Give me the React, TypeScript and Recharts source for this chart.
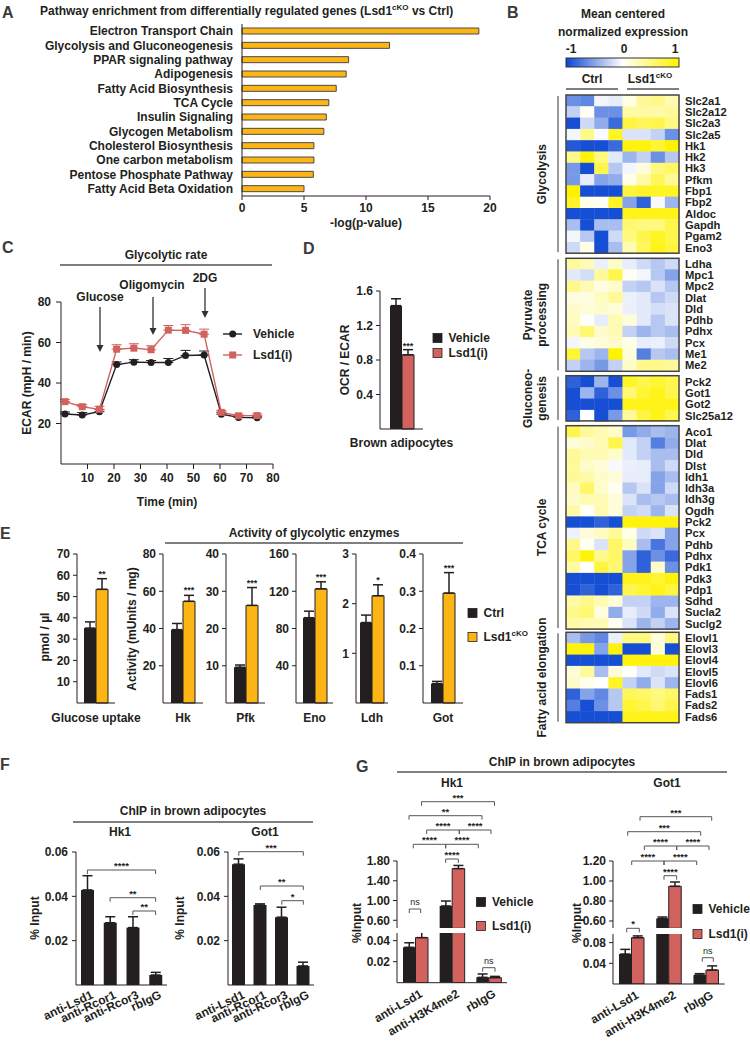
import React from 'react';
import { Bar, BarChart, ErrorBar, LabelList, Line, LineChart, Scatter, ScatterChart, XAxis, YAxis } from 'recharts';

const FONT = '"Liberation Sans", Arial, Helvetica, sans-serif';
const INK = '#231f20';
const RULE = '#555555';
const ORANGE = '#FDB515';
const SALMON = '#D1625E';
const HEAT_BLUE = [10, 70, 210];
const HEAT_YELLOW = [255, 242, 0];

// ---- A: pathway enrichment
const pathways = [
  'Electron Transport Chain', 'Glycolysis and Gluconeogenesis', 'PPAR signaling pathway', 'Adipogenesis',
  'Fatty Acid Biosynthesis', 'TCA Cycle', 'Insulin Signaling', 'Glycogen Metabolism',
  'Cholesterol Biosynthesis', 'One carbon metabolism', 'Pentose Phosphate Pathway', 'Fatty Acid Beta Oxidation',
];
const pathwayLogP = [19.1, 11.9, 8.6, 8.4, 7.6, 7.0, 6.8, 6.6, 5.8, 5.8, 5.75, 5.0];
const pathwayTicks = [0, 5, 10, 15, 20];

// ---- B: heatmap
const heatSamples = ['Ctrl 1', 'Ctrl 2', 'Ctrl 3', 'Ctrl 4', 'cKO 1', 'cKO 2', 'cKO 3', 'cKO 4'];
const glycolysisGenes = ['Slc2a1', 'Slc2a12', 'Slc2a3', 'Slc2a5', 'Hk1', 'Hk2', 'Hk3', 'Pfkm', 'Fbp1', 'Fbp2', 'Aldoc', 'Gapdh', 'Pgam2', 'Eno3'];
const glycolysisZ = [
  [-0.6, -0.65, -0.05, -0.1, 0.1, 0.4, 0.45, 0.3],
  [-0.25, 0.05, -0.6, -0.6, 0.35, 0.35, 0.35, 0.4],
  [-0.95, -0.2, -0.45, -0.8, 0.75, 0.65, 0.7, 0.5],
  [-0.05, 0.45, -0.02, 0.85, -0.15, -0.15, -0.25, -0.6],
  [-0.9, -0.95, -0.95, -0.8, 0.95, 0.95, 0.8, 1],
  [0.45, 0.95, 0.5, -0.12, -0.4, -0.25, -0.6, -0.3],
  [-0.55, -0.95, 0.7, -0.3, -0.05, 0.15, 0.5, 0.6],
  [-0.55, -0.1, -0.5, -0.45, 0.1, 0.35, 0.65, 0.4],
  [1, -0.95, -0.95, -0.95, 0.75, 0.85, 0.85, 0.85],
  [0.85, 0.1, 0.05, 0.85, -0.5, -0.85, -0.03, -0.4],
  [-0.95, -0.95, -0.95, -0.95, 0.9, 0.9, 0.9, 0.9],
  [-0.35, -0.95, -0.35, -0.35, 0.55, 0.5, 0.5, 0.7],
  [-0.05, -0.3, -0.95, -0.2, 0.5, 0.7, 0.85, 0.7],
  [-0.2, 0.1, -0.95, -0.35, 0.3, 0.65, 0.9, 0.75],
];
const pyruvateGenes = ['Ldha', 'Mpc1', 'Mpc2', 'Dlat', 'Dld', 'Pdhb', 'Pdhx', 'Pcx', 'Me1', 'Me2'];
const pyruvateZ = [
  [0.4, 0.3, -0.08, 0.2, -0.1, -0.2, -0.3, -0.2],
  [-0.12, -0.18, 0.4, 0.7, 0.05, -0.05, -0.3, -0.5],
  [0.45, 0.3, 0.12, 0.2, -0.25, -0.3, -0.15, -0.3],
  [0.12, 0.12, 0.25, 0.4, -0.08, -0.12, -0.3, -0.2],
  [0.2, 0.15, 0.2, 0.15, -0.08, -0.12, -0.18, -0.15],
  [0.25, 0.02, -0.1, 0.3, 0.15, -0.12, -0.3, -0.15],
  [0.3, 0.55, 0.2, 0.3, -0.25, -0.4, -0.3, -0.35],
  [-0.05, 0.1, 0.15, 0.2, 0.1, -0.1, -0.08, -0.2],
  [0.8, -0.3, -0.4, 1, 0.15, -0.7, -0.3, -0.35],
  [-0.25, -0.4, -0.55, -0.25, 0.2, 0.45, 0.45, 0.4],
];
const gluconeoGenes = ['Pck2', 'Got1', 'Got2', 'Slc25a12'];
const gluconeoZ = [
  [-0.85, -0.95, -0.4, -0.95, 0.85, 0.7, 0.8, 0.7],
  [-0.95, -0.4, -0.85, -0.6, 0.55, 0.8, 0.9, 0.7],
  [-0.95, -0.95, -0.95, -0.95, 0.9, 0.9, 0.9, 0.9],
  [-0.85, 0, -0.95, -0.55, 0.4, 0.75, 0.9, 0.7],
];
const tcaGenes = ['Aco1', 'Dlat', 'Dld', 'Dlst', 'Idh1', 'Idh3a', 'Idh3g', 'Ogdh', 'Pck2', 'Pcx', 'Pdhb', 'Pdhx', 'Pdk1', 'Pdk3', 'Pdp1', 'Sdhd', 'Sucla2', 'Suclg2'];
const tcaZ = [
  [0.7, 0.4, 0.3, 0.2, -0.55, -0.45, -0.35, -0.4],
  [0.15, 0.2, 0.3, 0.7, -0.12, -0.25, -0.7, -0.45],
  [0.4, 0.3, 0.3, 0.2, -0.12, -0.25, -0.35, -0.35],
  [0.4, 0.2, 0.15, -0.03, -0.08, -0.1, -0.35, -0.2],
  [0.4, 0.35, 0.2, 0.15, -0.1, -0.1, -0.5, -0.35],
  [0.25, 0.6, 0.2, 0.05, -0.3, -0.15, -0.5, -0.2],
  [0.2, 0.3, 0.3, 0.15, -0.15, -0.35, -0.3, -0.35],
  [0.35, 0.02, 0.3, 0.15, -0.25, -0.2, -0.4, -0.15],
  [-0.95, -0.95, -0.85, -0.95, 0.95, 0.95, 0.95, 0.95],
  [-0.07, 0.15, 0.25, 0.4, 0.1, -0.2, -0.15, -0.5],
  [0.45, 0.05, -0.15, 0.6, 0.25, -0.35, -0.75, -0.5],
  [0.6, 0.95, 0.45, 0.6, -0.5, -0.85, -0.6, -0.8],
  [0.35, 0.02, 0.75, 0.55, -0.5, -0.85, 0.2, -0.6],
  [-0.95, -0.95, -0.95, -0.95, 0.9, 0.9, 0.8, 0.95],
  [-0.95, -0.85, -0.95, -0.85, 0.7, 0.8, 0.9, 0.75],
  [0.35, 0.45, 0.3, 0.15, -0.25, -0.25, -0.4, -0.4],
  [0.45, 0.55, 0.12, -0.45, -0.1, -0.2, -0.45, -0.15],
  [0.35, 0.3, 0.3, 0.05, -0.15, -0.4, -0.25, -0.4],
];
const faElongGenes = ['Elovl1', 'Elovl3', 'Elovl4', 'Elovl5', 'Elovl6', 'Fads1', 'Fads2', 'Fads6'];
const faElongZ = [
  [-0.35, -0.55, -0.65, -0.08, 0.5, 0.5, 0.15, 0.5],
  [0.95, 0.95, -0.5, 0.95, -0.95, -0.95, 0.15, -0.95],
  [-0.95, -0.95, -0.95, -0.95, 0.95, 0.95, 0.95, 0.95],
  [0.15, 0.4, -0.35, 0.15, 0.02, -0.12, -0.2, -0.15],
  [0.2, 0.08, 0, 0.85, -0.25, -0.45, -0.15, -0.4],
  [-0.85, -0.5, -0.65, -0.3, 0.65, 0.6, 0.5, 0.6],
  [-0.7, -0.95, -0.6, -0.3, 0.8, 0.7, 0.55, 0.7],
  [-0.95, -0.95, -0.95, -0.95, 0.9, 0.9, 0.9, 0.9],
];
const heatGenes = [glycolysisGenes, pyruvateGenes, gluconeoGenes, tcaGenes, faElongGenes];
const heatZ = [glycolysisZ, pyruvateZ, gluconeoZ, tcaZ, faElongZ];
const heatGroups = [['Glycolysis'], ['Pyruvate', 'processing'], ['Gluconeo-', 'genesis'], ['TCA cycle'], ['Fatty acid elongation']];

// ---- C: glycolytic rate (ECAR)
const seahorseTimes = [1.5, 8, 14.5, 21, 27.5, 34, 40.5, 47, 54, 60.5, 67, 74];
const ecarVehicle = [24.7, 24.2, 25.8, 49.1, 50.3, 50.1, 50.1, 53.6, 53.8, 24.6, 23.0, 22.8];
const ecarVehicleErr = [1, 1.2, 1, 1.3, 1.2, 1, 2, 2.5, 2, 1, 0.8, 0.8];
const ecarLsd1i = [30.8, 28.3, 27.0, 56.7, 57.2, 56.4, 66.1, 66.0, 64.1, 25.5, 23.8, 23.9];
const ecarLsd1iErr = [1, 1, 1.5, 2.2, 2.2, 2, 2.3, 2.8, 2.5, 1, 0.8, 0.8];
const timeTicks = [10, 20, 30, 40, 50, 60, 70, 80];
const ecarTicks = [20, 40, 60, 80];

// ---- D: OCR / ECAR
const ocrGroups = ['Brown adipocytes'];
const ocrVehicle = [1.43];
const ocrVehicleErr = [0.08];
const ocrLsd1i = [0.86];
const ocrLsd1iErr = [0.06];
const ocrStars = ['***'];
const ocrTicks = [0.4, 0.8, 1.2, 1.6];

// ---- E: glucose uptake and enzyme activity
const enzymeAssays = ['Glucose uptake', 'Hk', 'Pfk', 'Eno', 'Ldh', 'Got'];
const enzymeCtrl = [35.2, 39.4, 9.6, 91.6, 1.62, 0.052];
const enzymeCtrlErr = [2.9, 3.3, 0.6, 7, 0.15, 0.006];
const enzymeKO = [53.4, 54.6, 26.2, 122.6, 2.16, 0.295];
const enzymeKOErr = [5, 3.2, 4.8, 7.5, 0.22, 0.055];
const enzymeStars = ['**', '***', '***', '***', '*', '***'];
const enzymeTicks = [[10, 20, 30, 40, 50, 60, 70], [20, 40, 60, 80], [10, 20, 30, 40], [40, 80, 120, 160], [1, 2, 3], [0.1, 0.2, 0.3, 0.4]];

// ---- F: ChIP, corepressor complex
const chipFAntibodies = ['anti-Lsd1', 'anti-Rcor1', 'anti-Rcor3', 'rbIgG'];
const chipFHk1 = [0.0429, 0.0281, 0.0259, 0.0045];
const chipFHk1Err = [0.0064, 0.0027, 0.0049, 0.0012];
const chipFGot1 = [0.0545, 0.0361, 0.0306, 0.0086];
const chipFGot1Err = [0.0024, 0.0005, 0.0045, 0.0017];
const chipFTicks = [0.02, 0.04, 0.06];

// ---- G: ChIP, Lsd1 inhibitor
const chipGAntibodies = ['anti-Lsd1', 'anti-H3K4me2', 'rbIgG'];
const chipGHk1Vehicle = [0.0337, 0.89, 0.0051];
const chipGHk1VehicleErr = [0.0043, 0.1, 0.0032];
const chipGHk1Lsd1i = [0.0429, 1.646, 0.0048];
const chipGHk1Lsd1iErr = [0.015, 0.064, 0.0012];
const chipGGot1Vehicle = [0.058, 0.624, 0.0174];
const chipGGot1VehicleErr = [0.009, 0.016, 0.0026];
const chipGGot1Lsd1i = [0.0896, 0.947, 0.027];
const chipGGot1Lsd1iErr = [0.0034, 0.043, 0.008];
const chipGHk1UpperTicks = [0.6, 1.0, 1.4, 1.8];
const chipGHk1LowerTicks = [0.02, 0.04];
const chipGGot1UpperTicks = [0.6, 0.8, 1.0, 1.2];
const chipGGot1LowerTicks = [0.04, 0.08];

const tickFont = { fill: INK, fontSize: 12 };

function heatColor(z: number) {
  const t = Math.max(-1, Math.min(1, z));
  const end = t < 0 ? HEAT_BLUE : HEAT_YELLOW;
  const k = Math.abs(t);
  const c = end.map((v) => Math.round(255 + (v - 255) * k));
  return `rgb(${c[0]},${c[1]},${c[2]})`;
}

const catTick = (gap: number) => (p: any) => (
  <text x={p.x} y={p.y + gap} textAnchor="middle" dominantBaseline="central" fontSize={12} fill={INK}>
    {p.payload.value}
  </text>
);

const slantTick = (angle: number, dx: number, dy: number) => (p: any) => {
  const x = p.x + dx;
  const y = p.y + dy;
  return (
    <text x={x} y={y} textAnchor="end" dominantBaseline="central" fontSize={12} fill={INK} transform={`rotate(${angle} ${x} ${y})`}>
      {p.payload.value}
    </text>
  );
};

function At({ x, y, children }: any) {
  return <div style={{ position: 'absolute', left: x, top: y }}>{children}</div>;
}

function T({ x, y, children, size = 12, anchor = 'middle', rotate = 0, fill = INK, weight = 700 }: any) {
  return (
    <text x={x} y={y} fontSize={size} fontWeight={weight} textAnchor={anchor} dominantBaseline="central" fill={fill}
      transform={rotate ? `rotate(${rotate} ${x} ${y})` : undefined}>
      {children}
    </text>
  );
}

function Rule({ x1, x2, y }: any) {
  return <line x1={x1} x2={x2} y1={y} y2={y} stroke={RULE} strokeWidth={1.3} />;
}

function Bracket({ x1, x2, y, label }: any) {
  const ns = label === 'ns';
  return (
    <g>
      <path d={`M${x1},${y + 4}V${y}H${x2}V${y + 4}`} fill="none" stroke={RULE} strokeWidth={1} />
      <T x={(x1 + x2) / 2} y={ns ? y - 7 : y - 4.5} size={ns ? 9 : 9.5} weight={ns ? 400 : 700}>{label}</T>
    </g>
  );
}

function Arrow({ x, y1, y2 }: any) {
  return (
    <g>
      <line x1={x} x2={x} y1={y1} y2={y2 - 6} stroke="#333" strokeWidth={1.3} />
      <path d={`M${x - 3.5},${y2 - 7}L${x + 3.5},${y2 - 7}L${x},${y2}Z`} fill="#333" />
    </g>
  );
}

function Swatch({ x, y, fill, label }: any) {
  return (
    <g>
      <rect x={x - 4.5} y={y - 4.5} width={9} height={9} fill={fill} stroke={INK} strokeWidth={0.8} />
      <T x={x + 11} y={y} anchor="start">{label}</T>
    </g>
  );
}

function Sup({ base, sup, tail = '' }: any) {
  return (
    <>
      {base}
      <tspan dy={-4} fontSize={8}>{sup}</tspan>
      <tspan dy={4}>{tail}</tspan>
    </>
  );
}

function PathwayChart() {
  const rows = pathways.map((name, i) => ({ name, logp: pathwayLogP[i] }));
  return (
    <BarChart width={500} height={240} data={rows} layout="vertical" margin={{ top: 24, right: 10, bottom: 24, left: 0 }}>
      <XAxis type="number" domain={[0, 20]} ticks={pathwayTicks} interval={0} height={20} tickSize={4} tickMargin={3} stroke={INK} tick={tickFont} />
      <YAxis type="category" dataKey="name" width={242} interval={0} tickLine={false} tickSize={0} tickMargin={9} stroke={INK} tick={tickFont} />
      <Bar dataKey="logp" barSize={6} fill={ORANGE} stroke="#4a4a4a" strokeWidth={1} isAnimationActive={false} />
    </BarChart>
  );
}

const ROW_H = 11.3;
const HEAT_X = 566;
const HEAT_W = 113;
const HEAT_PAD = 8;
const heatTops = [95, 258.3, 375.7, 425.7, 632.3];

function HeatBlock({ genes, z }: any) {
  const cells = genes.flatMap((gene: string, r: number) => heatSamples.map((sample, c) => ({ gene, sample, z: z[r][c] })));
  const cw = HEAT_W / heatSamples.length;
  return (
    <ScatterChart width={HEAT_W + 66} height={genes.length * ROW_H + 2 * HEAT_PAD}
      margin={{ top: HEAT_PAD, right: 0, bottom: HEAT_PAD, left: 0 }}>
      <XAxis type="category" dataKey="sample" allowDuplicatedCategory={false} hide />
      <YAxis type="category" dataKey="gene" allowDuplicatedCategory={false} orientation="right" width={66} reversed interval={0}
        axisLine={false} tickLine={false} tickSize={0} tickMargin={6} tick={{ fill: INK, fontSize: 11.2 }} />
      <Scatter data={cells} isAnimationActive={false}
        shape={(p: any) => (
          <rect x={p.cx - cw / 2} y={p.cy - ROW_H / 2} width={cw + 0.4} height={ROW_H + 0.4} fill={heatColor(p.payload.z)} />
        )} />
    </ScatterChart>
  );
}

function EcarChart() {
  const rows = seahorseTimes.map((t, i) => ({
    t,
    vehicle: ecarVehicle[i], vehicleErr: [0, ecarVehicleErr[i]],
    lsd1i: ecarLsd1i[i], lsd1iErr: [0, ecarLsd1iErr[i]],
  }));
  return (
    <LineChart width={280} height={204} data={rows} margin={{ top: 22, right: 7, bottom: 0, left: 0 }}>
      <XAxis type="number" dataKey="t" domain={[0, 80]} ticks={timeTicks} interval={0} height={20} tickSize={5} tickMargin={4} stroke={INK} tick={tickFont} />
      <YAxis domain={[0, 80]} ticks={ecarTicks} interval={0} width={61} tickSize={5} tickMargin={5} stroke={INK} tick={tickFont} />
      <Line dataKey="vehicle" stroke={INK} strokeWidth={1.4} isAnimationActive={false}
        dot={{ r: 3.5, fill: INK, stroke: INK, strokeWidth: 0 }}>
        <ErrorBar dataKey="vehicleErr" width={5} stroke={INK} strokeWidth={1} direction="y" />
      </Line>
      <Line dataKey="lsd1i" stroke={SALMON} strokeWidth={1.4} isAnimationActive={false}
        dot={(p: any) => <rect key={`sq-${p.index}`} x={p.cx - 3.5} y={p.cy - 3.5} width={7} height={7} fill={SALMON} />}>
        <ErrorBar dataKey="lsd1iErr" width={5} stroke={SALMON} strokeWidth={1} direction="y" />
      </Line>
    </LineChart>
  );
}

function OcrEcarChart() {
  const rows = ocrGroups.map((g, i) => ({
    g, vehicle: ocrVehicle[i], vehicleErr: [0, ocrVehicleErr[i]],
    lsd1i: ocrLsd1i[i], lsd1iErr: [0, ocrLsd1iErr[i]], stars: ocrStars[i],
  }));
  const plotH = 138;
  const errPx = (ocrLsd1iErr[0] / 1.6) * plotH;
  return (
    <BarChart width={130} height={189} data={rows} margin={{ top: 21, right: 37, bottom: 0, left: 0 }} barGap={0}>
      <XAxis dataKey="g" height={30} interval={0} tickLine={false} tickSize={0} tickMargin={0} stroke={INK} tick={catTick(14)} />
      <YAxis domain={[0, 1.6]} ticks={ocrTicks} interval={0} width={50} tickSize={4} tickMargin={3} stroke={INK} tick={tickFont} />
      <Bar dataKey="vehicle" barSize={12} fill={INK} isAnimationActive={false}>
        <ErrorBar dataKey="vehicleErr" width={5} stroke={INK} direction="y" />
      </Bar>
      <Bar dataKey="lsd1i" barSize={12} fill={SALMON} stroke={INK} strokeWidth={1} isAnimationActive={false}>
        <ErrorBar dataKey="lsd1iErr" width={5} stroke={INK} direction="y" />
        <LabelList dataKey="stars" position="top" offset={errPx + 1} fontSize={9} fill={INK} />
      </Bar>
    </BarChart>
  );
}

const enzymeAxisX = [77, 163, 226, 296, 356, 423];
const enzymePlotW = [38, 40, 39, 37, 32, 40];

function EnzymeChart({ i }: any) {
  const ticks = enzymeTicks[i];
  const max = ticks[ticks.length - 1];
  const plotH = 149;
  const rows = [{
    assay: enzymeAssays[i], ctrl: enzymeCtrl[i], ctrlErr: [0, enzymeCtrlErr[i]],
    ko: enzymeKO[i], koErr: [0, enzymeKOErr[i]], stars: enzymeStars[i],
  }];
  const errPx = (enzymeKOErr[i] / max) * plotH;
  return (
    <BarChart width={40 + enzymePlotW[i] + 45} height={184} data={rows} margin={{ top: 10, right: 45, bottom: 0, left: 0 }} barGap={0}>
      <XAxis dataKey="assay" height={25} interval={0} tickLine={false} tickSize={0} tickMargin={0} stroke={INK} tick={catTick(15)} />
      <YAxis domain={[0, max]} ticks={ticks} interval={0} width={40} tickSize={4} tickMargin={3} stroke={INK} tick={tickFont} />
      <Bar dataKey="ctrl" barSize={12} fill={INK} isAnimationActive={false}>
        <ErrorBar dataKey="ctrlErr" width={5} stroke={INK} direction="y" />
      </Bar>
      <Bar dataKey="ko" barSize={12} fill={ORANGE} stroke={INK} strokeWidth={1} isAnimationActive={false}>
        <ErrorBar dataKey="koErr" width={5} stroke={INK} direction="y" />
        <LabelList dataKey="stars" position="top" offset={errPx + 2} fontSize={9} fill={INK} />
      </Bar>
    </BarChart>
  );
}

function ChipFChart({ plotW, values, errs }: any) {
  const rows = chipFAntibodies.map((ab, i) => ({ ab, v: values[i], err: [0, errs[i]] }));
  return (
    <BarChart width={50 + plotW + 12} height={193} data={rows} margin={{ top: 10, right: 12, bottom: 0, left: 0 }}>
      <XAxis dataKey="ab" height={50} interval={0} tickLine={false} tickSize={0} tickMargin={0} stroke={INK} tick={slantTick(-25, 5, 9)} />
      <YAxis domain={[0, 0.06]} ticks={chipFTicks} interval={0} width={50} tickSize={4} tickMargin={4} stroke={INK} tick={tickFont} />
      <Bar dataKey="v" barSize={13} fill={INK} isAnimationActive={false}>
        <ErrorBar dataKey="err" width={5} stroke={INK} direction="y" />
      </Bar>
    </BarChart>
  );
}

function ChipGChart({ x, plotW, upperTop, upperH, lowerTop, lowerH, upperDomain, upperTicks, lowerDomain, lowerTicks, veh, vehErr, inh, inhErr }: any) {
  const lowMax = lowerDomain[1];
  const upper = chipGAntibodies.map((ab, i) => ({
    ab,
    veh: veh[i] > lowMax ? veh[i] : null, vehErr: veh[i] > lowMax ? [0, vehErr[i]] : null,
    inh: inh[i] > lowMax ? inh[i] : null, inhErr: inh[i] > lowMax ? [0, inhErr[i]] : null,
  }));
  const lower = chipGAntibodies.map((ab, i) => ({
    ab,
    veh: veh[i], vehErr: veh[i] > lowMax ? null : [0, vehErr[i]],
    inh: inh[i], inhErr: inh[i] > lowMax ? null : [0, inhErr[i]],
  }));
  const w = 50 + plotW + 12;
  const fmt = (v: number) => v.toFixed(2);
  return (
    <>
      <At x={x - 50} y={upperTop - 10}>
        <BarChart width={w} height={upperH + 10} data={upper} margin={{ top: 10, right: 12, bottom: 0, left: 0 }} barGap={0}>
          <XAxis dataKey="ab" hide />
          <YAxis domain={upperDomain} ticks={upperTicks} interval={0} allowDataOverflow width={50} tickSize={4} tickMargin={3} stroke={INK} tick={tickFont} tickFormatter={fmt} />
          <Bar dataKey="veh" barSize={12.5} fill={INK} isAnimationActive={false}>
            <ErrorBar dataKey="vehErr" width={5} stroke={INK} direction="y" />
          </Bar>
          <Bar dataKey="inh" barSize={12.5} fill={SALMON} stroke={INK} strokeWidth={1} isAnimationActive={false}>
            <ErrorBar dataKey="inhErr" width={5} stroke={INK} direction="y" />
          </Bar>
        </BarChart>
      </At>
      <At x={x - 50} y={lowerTop}>
        <BarChart width={w} height={lowerH + 60} data={lower} margin={{ top: 0, right: 12, bottom: 0, left: 0 }} barGap={0}>
          <XAxis dataKey="ab" height={60} interval={0} tickLine={false} tickSize={0} tickMargin={0} stroke={INK} tick={slantTick(-30, 6, 10)} />
          <YAxis domain={lowerDomain} ticks={lowerTicks} interval={0} allowDataOverflow width={50} tickSize={4} tickMargin={3} stroke={INK} tick={tickFont} tickFormatter={fmt} />
          <Bar dataKey="veh" barSize={12.5} fill={INK} isAnimationActive={false}>
            <ErrorBar dataKey="vehErr" width={5} stroke={INK} direction="y" />
          </Bar>
          <Bar dataKey="inh" barSize={12.5} fill={SALMON} stroke={INK} strokeWidth={1} isAnimationActive={false}>
            <ErrorBar dataKey="inhErr" width={5} stroke={INK} direction="y" />
          </Bar>
        </BarChart>
      </At>
    </>
  );
}

function Overlay() {
  const letter = (x: number, y: number, s: string) => <T x={x} y={y} size={16} anchor="start" fill="#3a3a3a">{s}</T>;
  return (
    <svg width={750} height={1041} style={{ position: 'absolute', left: 0, top: 0, pointerEvents: 'none' }}>
      <defs>
        <linearGradient id="heatScale" x1="0" x2="1" y1="0" y2="0">
          <stop offset="0" stopColor={heatColor(-1)} />
          <stop offset="0.5" stopColor="#ffffff" />
          <stop offset="1" stopColor={heatColor(1)} />
        </linearGradient>
      </defs>

      {letter(2, 12, 'A')}
      {letter(507, 12, 'B')}
      {letter(2, 247, 'C')}
      {letter(303, 248, 'D')}
      {letter(0, 533, 'E')}
      {letter(0, 764, 'F')}
      {letter(356, 766, 'G')}

      {/* A */}
      <T x={40} y={11} anchor="start"><Sup base="Pathway enrichment from differentially regulated genes (Lsd1" sup="cKO" tail=" vs Ctrl)" /></T>
      <T x={366} y={223}>-log(p-value)</T>

      {/* B */}
      <T x={623} y={14}>Mean centered</T>
      <T x={623} y={32}>normalized expression</T>
      <T x={571} y={49}>-1</T>
      <T x={624} y={49}>0</T>
      <T x={675} y={49}>1</T>
      <rect x={566} y={58} width={113} height={9} fill="url(#heatScale)" stroke="#333" strokeWidth={1} />
      <T x={592} y={79}>Ctrl</T>
      <T x={650} y={79}><Sup base="Lsd1" sup="cKO" /></T>
      <Rule x1={566} x2={618} y={89} />
      <Rule x1={627} x2={679} y={89} />
      {heatGenes.map((genes, b) => {
        const top = heatTops[b];
        const h = genes.length * ROW_H;
        const mid = top + h / 2;
        const lines = heatGroups[b];
        return (
          <g key={b}>
            <rect x={HEAT_X} y={top} width={HEAT_W} height={h} fill="none" stroke="#444" strokeWidth={1.5} />
            <line x1={558} x2={558} y1={top + 1} y2={top + h - 1} stroke="#333" strokeWidth={1} />
            {lines.map((s, k) => (
              <T key={k} x={lines.length === 1 ? 542 : 528 + k * 14} y={mid} rotate={-90}>{s}</T>
            ))}
          </g>
        );
      })}

      {/* C */}
      <T x={166} y={255}>Glycolytic rate</T>
      <Rule x1={60} x2={272} y={265} />
      <T x={100} y={297}>Glucose</T>
      <Arrow x={100} y1={307} y2={352} />
      <T x={152} y={285}>Oligomycin</T>
      <Arrow x={153} y1={297} y2={335} />
      <T x={205} y={278}>2DG</T>
      <Arrow x={205} y1={288} y2={318} />
      <line x1={223} x2={242} y1={334} y2={334} stroke={INK} strokeWidth={1.4} />
      <circle cx={232.7} cy={334} r={3.5} fill={INK} />
      <T x={253} y={334} anchor="start">Vehicle</T>
      <line x1={223} x2={242} y1={355} y2={355} stroke={SALMON} strokeWidth={1.4} />
      <rect x={229.2} y={351.5} width={7} height={7} fill={SALMON} />
      <T x={253} y={355} anchor="start">Lsd1(i)</T>
      <T x={27} y={383} rotate={-90}>ECAR (mpH / min)</T>
      <T x={167} y={502}>Time (min)</T>

      {/* D */}
      <T x={345} y={360} rotate={-90}>OCR / ECAR</T>
      <Swatch x={437.5} y={338} fill={INK} label="Vehicle" />
      <Swatch x={437.5} y={353} fill={SALMON} label="Lsd1(i)" />

      {/* E */}
      <T x={314} y={533}>Activity of glycolytic enzymes</T>
      <Rule x1={165} x2={463} y={543} />
      <T x={45} y={637} rotate={-90}>pmol / µl</T>
      <T x={132} y={629} rotate={-90}>Activity (mUnits / mg)</T>
      <Swatch x={472.5} y={613} fill={INK} label="Ctrl" />
      <Swatch x={472.5} y={637} fill={ORANGE} label={<Sup base="Lsd1" sup="cKO" />} />

      {/* F */}
      <T x={193} y={811}>ChIP in brown adipocytes</T>
      <Rule x1={73} x2={313} y={822} />
      <T x={120} y={832}>Hk1</T>
      <T x={265} y={832}>Got1</T>
      <T x={35} y={918} rotate={-90}>% Input</T>
      <T x={180} y={918} rotate={-90}>% Input</T>
      <Bracket x1={87.4} x2={155.6} y={870} label="****" />
      <Bracket x1={110.1} x2={155.6} y={897.7} label="**" />
      <Bracket x1={132.9} x2={155.6} y={911} label="**" />
      <Bracket x1={238.8} x2={303.3} y={851.7} label="***" />
      <Bracket x1={260.3} x2={303.3} y={886} label="**" />
      <Bracket x1={281.8} x2={303.3} y={900.7} label="*" />

      {/* G */}
      <T x={562} y={762}>ChIP in brown adipocytes</T>
      <Rule x1={397} x2={727} y={772} />
      <T x={452} y={783}>Hk1</T>
      <T x={667} y={783}>Got1</T>
      <T x={357} y={923} rotate={-90}>%Input</T>
      <T x={577} y={923} rotate={-90}>%Input</T>
      <Bracket x1={421.5} x2={494.5} y={801.7} label="***" />
      <Bracket x1={409} x2={482} y={815.7} label="**" />
      <Bracket x1={426.7} x2={459.3} y={830} label="****" />
      <Bracket x1={459.3} x2={491} y={830} label="****" />
      <Bracket x1={413.3} x2={445.7} y={844.3} label="****" />
      <Bracket x1={445.7} x2={478.3} y={844.3} label="****" />
      <Bracket x1={445.7} x2={458.3} y={859} label="****" />
      <Bracket x1={409.3} x2={420.7} y={909} label="ns" />
      <Bracket x1={482.7} x2={495} y={967.7} label="ns" />
      <Bracket x1={640} x2={711.7} y={816.7} label="***" />
      <Bracket x1={627.7} x2={700.7} y={831.7} label="***" />
      <Bracket x1={644.3} x2={676.7} y={846} label="****" />
      <Bracket x1={676.7} x2={709} y={846} label="****" />
      <Bracket x1={631.7} x2={664} y={861} label="****" />
      <Bracket x1={664} x2={696.7} y={861} label="****" />
      <Bracket x1={664} x2={676.7} y={875.7} label="****" />
      <Bracket x1={626.7} x2={639.3} y={928.3} label="*" />
      <Bracket x1={702.3} x2={713.3} y={957.7} label="ns" />
      <Swatch x={481} y={902} fill={INK} label="Vehicle" />
      <Swatch x={481} y={926} fill={SALMON} label="Lsd1(i)" />
      <Swatch x={697.5} y={909} fill={INK} label="Vehicle" />
      <Swatch x={697.5} y={934} fill={SALMON} label="Lsd1(i)" />
    </svg>
  );
}

export default function App() {
  return (
    <div style={{ position: 'absolute', left: 0, top: 0, width: 750, height: 1041, background: '#fff', fontFamily: FONT, fontWeight: 700, color: INK, overflow: 'hidden' }}>
      <At x={0} y={0}><PathwayChart /></At>
      {heatGenes.map((genes, b) => (
        <At key={b} x={HEAT_X} y={heatTops[b] - HEAT_PAD}><HeatBlock genes={genes} z={heatZ[b]} /></At>
      ))}
      <At x={0} y={280}><EcarChart /></At>
      <At x={330} y={270}><OcrEcarChart /></At>
      {enzymeAssays.map((a, i) => (
        <At key={a} x={enzymeAxisX[i] - 40} y={544}><EnzymeChart i={i} /></At>
      ))}
      <At x={26} y={842}><ChipFChart plotW={91} values={chipFHk1} errs={chipFHk1Err} /></At>
      <At x={178} y={842}><ChipFChart plotW={86} values={chipFGot1} errs={chipFGot1Err} /></At>
      <ChipGChart x={396.7} plotW={110} upperTop={860.7} upperH={67.3} lowerTop={933} lowerH={49.7}
        upperDomain={[0.438, 1.8]} upperTicks={chipGHk1UpperTicks} lowerDomain={[0, 0.0473]} lowerTicks={chipGHk1LowerTicks}
        veh={chipGHk1Vehicle} vehErr={chipGHk1VehicleErr} inh={chipGHk1Lsd1i} inhErr={chipGHk1Lsd1iErr} />
      <ChipGChart x={613.3} plotW={111.7} upperTop={860.7} upperH={67.3} lowerTop={934} lowerH={50}
        upperDomain={[0.527, 1.2]} upperTicks={chipGGot1UpperTicks} lowerDomain={[0, 0.0967]} lowerTicks={chipGGot1LowerTicks}
        veh={chipGGot1Vehicle} vehErr={chipGGot1VehicleErr} inh={chipGGot1Lsd1i} inhErr={chipGGot1Lsd1iErr} />
      <Overlay />
    </div>
  );
}
